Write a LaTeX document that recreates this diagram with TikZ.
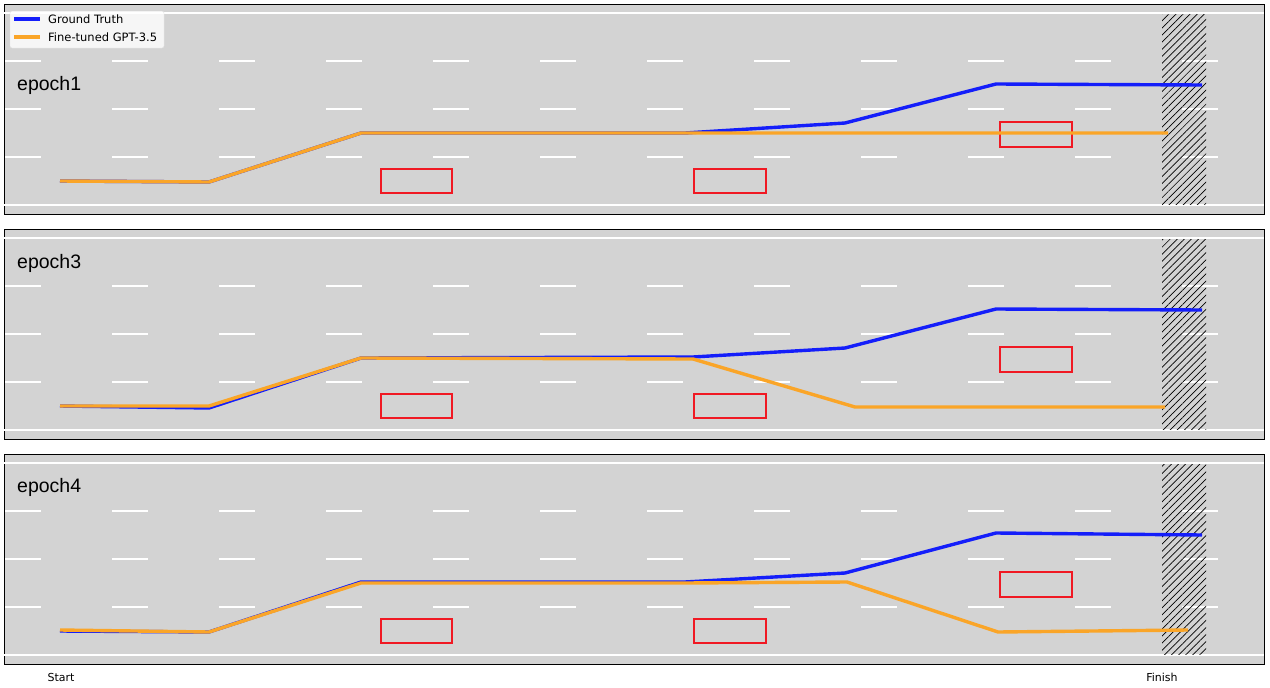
\documentclass[tikz,border=0pt]{standalone}
\usepackage{fontspec}
\setmainfont{DejaVu Sans}
\newfontfamily\labelfont{Liberation Sans}
\usetikzlibrary{patterns.meta}
\definecolor{roadgray}{RGB}{211,211,211}
\definecolor{gtblue}{RGB}{20,30,250}
\definecolor{predorange}{RGB}{250,165,40}
\definecolor{boxred}{RGB}{240,25,35}

\begin{document}
\begin{tikzpicture}[
    x=1pt, y=-1pt,
    panel/.style={draw=black, line width=0.8pt, fill=roadgray},
    lanesolid/.style={white, line width=1.8pt},
    lanedash/.style={white, line width=1.8pt, dash pattern=on 36pt off 71pt},
    finishzone/.style={pattern={Lines[angle=45, distance=5pt, line width=0.7pt]}, pattern color=black},
    gtline/.style={gtblue, line width=3.4pt, line join=round},
    predline/.style={predorange, line width=3.4pt, line join=round},
    obstacle/.style={draw=boxred, line width=2.3pt},
    epochlabel/.style={anchor=west, inner sep=0pt, font=\labelfont\fontsize{19.5}{22}\selectfont},
    legendtext/.style={anchor=west, inner sep=0pt, font=\fontsize{11.5}{13}\selectfont},
    ticklabel/.style={inner sep=0pt, font=\fontsize{11}{13}\selectfont}
]
\useasboundingbox[fill=white] (0,0) rectangle (1270,688);

% Road panels, one per epoch
\foreach \ep/\oy/\ty in {1/0/85, 3/225/38, 4/450/37} {
  \begin{scope}[yshift=-\oy pt]
    \draw[panel] (4,4) rectangle (1264,214);
    \foreach \ly in {13,205} \draw[lanesolid] (4,\ly) -- (1264,\ly);
    \foreach \ly in {61,109,157} \draw[lanedash] (5,\ly) -- (1264,\ly);
    \fill[finishzone] (1162,14) rectangle (1206,204);
    \node[epochlabel] (ep\ep) at (17,\ty) {epoch\ep};
    % Obstacles
    \draw[obstacle] (381,169) rectangle (452,193);
    \draw[obstacle] (694,169) rectangle (766,193);
    \draw[obstacle] (1000,122) rectangle (1072,147);
  \end{scope}
}

% ============ epoch1 ============
\draw[gtline] (60,181) -- (209,182) -- (361,133) -- (685,133) -- (845,123) -- (996,84) -- (1202,85);
\draw[predline] (60,181) -- (209,182) -- (361,133) -- (685,133) -- (1168,133);

% ============ epoch3 ============
\begin{scope}[yshift=-225pt]
\draw[gtline] (60,181) -- (209,183) -- (361,133) -- (693,132) -- (845,123) -- (996,84) -- (1202,85);
\draw[predline] (60,181) -- (209,181) -- (361,133) -- (693,134) -- (855,182) -- (1165,182);
\end{scope}

% ============ epoch4 ============
\begin{scope}[yshift=-450pt]
\draw[gtline] (60,181) -- (209,182) -- (361,132) -- (685,132) -- (845,123) -- (996,83) -- (1202,85);
\draw[predline] (60,180) -- (209,182) -- (361,133) -- (685,133) -- (847,132) -- (998,182) -- (1188,180);
\end{scope}

% Legend
\draw[fill=white, fill opacity=0.8, draw=gray!25, rounded corners=2pt] (10,11) rectangle (164,48);
\draw[gtline] (14,19) -- (40,19);
\node[legendtext] (leggt) at (48,19) {Ground Truth};
\draw[predline] (14,37) -- (40,37);
\node[legendtext] (legpred) at (48,37) {Fine-tuned GPT-3.5};

% Axis labels
\node[ticklabel] (start) at (61,677) {Start};
\node[ticklabel] (finish) at (1162,677) {Finish};

\end{tikzpicture}
\end{document}
